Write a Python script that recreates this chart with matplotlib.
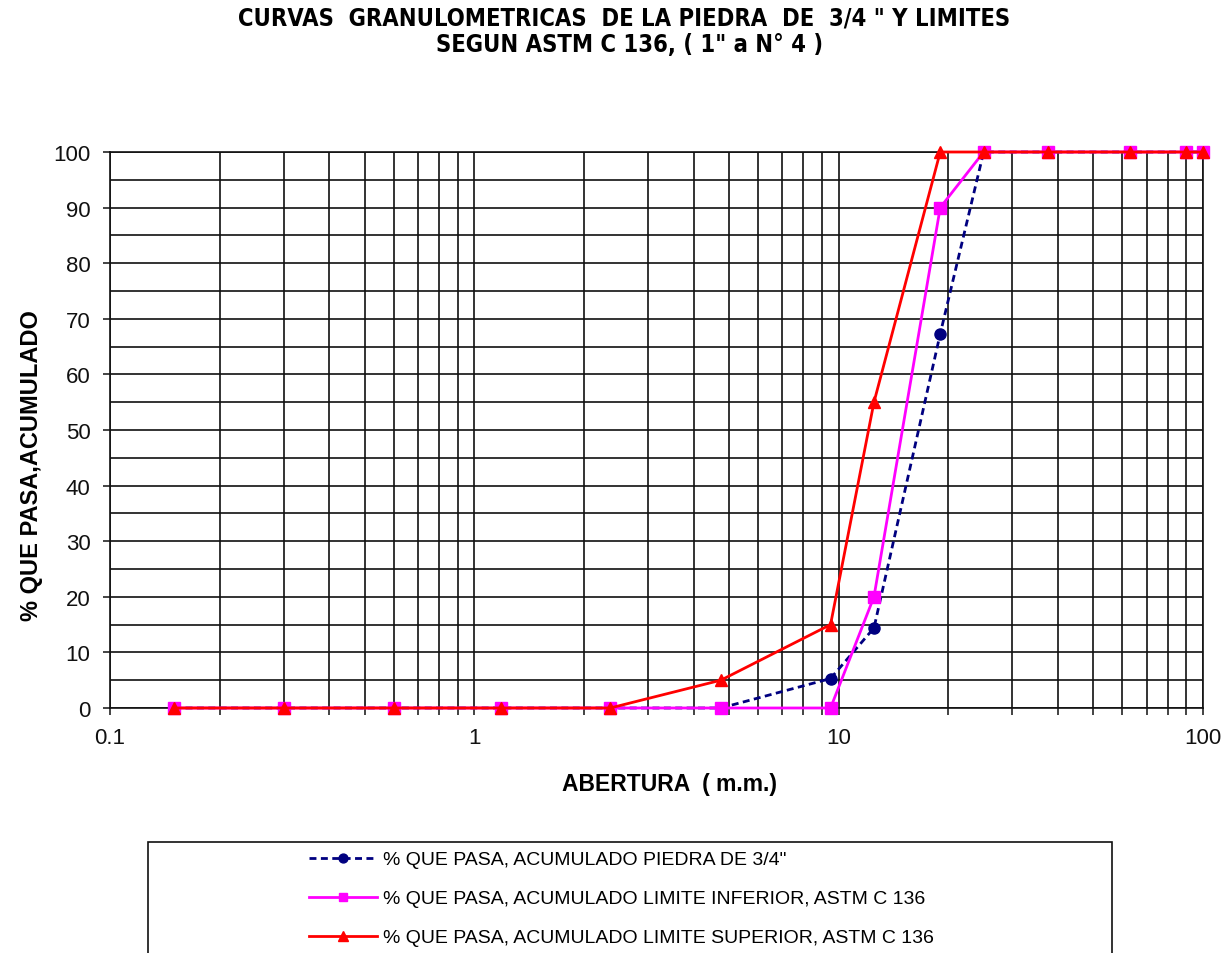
import matplotlib
matplotlib.use("Agg")
import matplotlib.pyplot as plt
from matplotlib.ticker import FixedLocator, NullFormatter, FixedFormatter, LogLocator
from matplotlib.patches import Rectangle

# ---- data ----
abertura = [0.15, 0.3, 0.6, 1.18, 2.36, 4.75, 9.5, 12.5, 19.0, 25.0, 37.5, 63.0, 90.0, 100.0]
piedra = [0, 0, 0, 0, 0, 0, 5.3, 14.4, 67.3, 100, 100, 100, 100, 100]
lim_inf = [0, 0, 0, 0, 0, 0, 0, 20, 90, 100, 100, 100, 100, 100]
lim_sup = [0, 0, 0, 0, 0, 5, 15, 55, 100, 100, 100, 100, 100, 100]
x_ticks = [0.1, 1, 10, 100]
x_tick_labels = ["0.1", "1", "10", "100"]
y_ticks = [0, 10, 20, 30, 40, 50, 60, 70, 80, 90, 100]

title_l1 = 'CURVAS  GRANULOMETRICAS  DE LA PIEDRA  DE  3/4 " Y LIMITES'
title_l2 = 'SEGUN ASTM C 136, ( 1" a N° 4 )'
names = ['% QUE PASA, ACUMULADO PIEDRA DE 3/4"',
         '% QUE PASA, ACUMULADO LIMITE INFERIOR, ASTM C 136',
         '% QUE PASA, ACUMULADO LIMITE SUPERIOR, ASTM C 136']

plt.rcParams['font.family'] = ['Liberation Sans', 'DejaVu Sans']
W, H = 1228, 954
fig = plt.figure(figsize=(W / 100, H / 100), dpi=100)
ax = fig.add_axes([110 / W, 1 - 709 / H, (1203 - 110) / W, (709 - 153) / H])

ax.set_xscale('log')
ax.set_xlim(0.1, 100)
ax.set_ylim(0, 100)

l1, = ax.plot(abertura, piedra, color='#000080', ls=(0, (2.5, 1.6)), lw=2, marker='o', ms=8, zorder=3)
l2, = ax.plot(abertura, lim_inf, color='#FF00FF', ls='-', lw=2, marker='s', ms=8, zorder=4)
l3, = ax.plot(abertura, lim_sup, color='#FF0000', ls='-', lw=2, marker='^', ms=9, zorder=5)
for l in (l1, l2, l3):
    l.set_clip_on(False)

ax.xaxis.set_major_locator(FixedLocator(x_ticks))
ax.xaxis.set_major_formatter(FixedFormatter(x_tick_labels))
ax.xaxis.set_minor_locator(LogLocator(base=10, subs=range(2, 10)))
ax.xaxis.set_minor_formatter(NullFormatter())
ax.yaxis.set_major_locator(FixedLocator(y_ticks))
ax.yaxis.set_minor_locator(FixedLocator([v + 5 for v in y_ticks[:-1]]))

ax.grid(True, which='both', axis='both', color='#111111', lw=1.2)
ax.set_axisbelow(True)
for s in ax.spines.values():
    s.set_color('#111111')
    s.set_linewidth(1.2)

ax.tick_params(axis='x', which='both', direction='out', length=5, width=1.1, labelsize=16, pad=9,
               colors='#111111')
ax.tick_params(axis='y', which='major', direction='out', length=5, width=1.1, labelsize=16, pad=9,
               colors='#111111')
ax.tick_params(axis='y', which='minor', length=0)

tkw = dict(ha='center', va='center', fontsize=17, fontweight='bold',
           family=['DejaVu Sans'], fontstretch='condensed')
fig.text(624 / W, 1 - 19 / H, title_l1, **tkw)
fig.text(630 / W, 1 - 45 / H, title_l2, **tkw)
fig.text(670 / W, 1 - 785 / H, 'ABERTURA  ( m.m.)', ha='center', va='center', fontsize=16.5,
         fontweight='bold')
fig.text(32 / W, 1 - 466 / H, '% QUE PASA,ACUMULADO', ha='center', va='center', rotation=90,
         fontsize=17, fontweight='bold')

# legend frame
fig.patches.append(Rectangle((148 / W, -0.05), (1112 - 148) / W, (1 - 843 / H) + 0.05,
                             transform=fig.transFigure, fill=False, edgecolor='#111111', lw=1.2))
leg = fig.legend([l1, l2, l3], names, loc='upper left', bbox_to_anchor=(303 / W, 1 - 846 / H),
                 frameon=False, fontsize=14, handlelength=3.5, handletextpad=0.3,
                 labelspacing=1.1, borderaxespad=0, borderpad=0.3, markerscale=0.8)

fig.savefig('out.png', dpi=100)
